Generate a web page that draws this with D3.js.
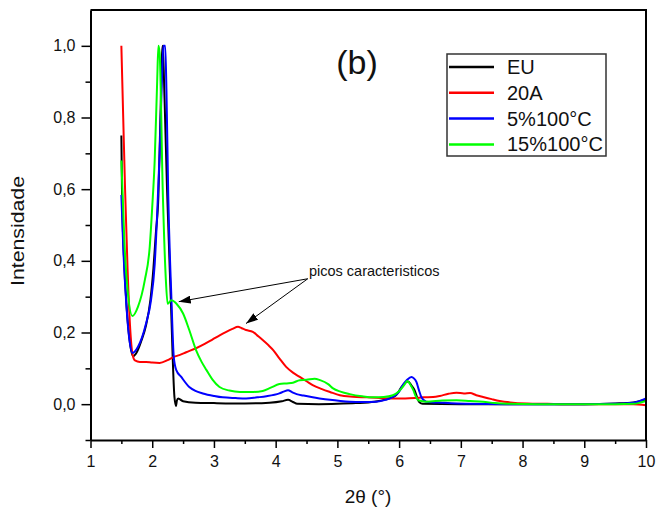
<!DOCTYPE html>
<html>
<head>
<meta charset="utf-8">
<script src="https://cdn.jsdelivr.net/npm/d3@7"></script>
<style>
  body { margin: 0; background: #fff; }
  text { font-family: Arial, "Liberation Sans", sans-serif; }
</style>
</head>
<body>
<div id="graph"></div>
<script>
const euData = [[1.5,0.75],[1.51,0.6],[1.54,0.42],[1.59,0.26],[1.64,0.17],[1.69,0.134],[1.75,0.145],[1.82,0.175],[1.9,0.22],[1.97,0.29],[2.02,0.38],[2.06,0.48],[2.1,0.58],[2.13,0.78],[2.16,0.98],[2.17,1.0],[2.2,0.85],[2.24,0.6],[2.3,0.3],[2.36,0.02],[2.385,-0.005],[2.4,0.01],[2.42,0.016],[2.5,0.008],[2.7,0.004],[3.0,0.003],[3.5,0.002],[3.9,0.004],[4.1,0.008],[4.2,0.012],[4.28,0.006],[4.35,0.001],[4.7,0],[5.0,0.001],[5.3,0.003],[5.6,0.007],[5.8,0.014],[5.95,0.025],[6.04,0.048],[6.1,0.06],[6.145,0.063],[6.2,0.052],[6.25,0.039],[6.3,0.015],[6.33,0.005],[6.38,0.001],[7,0],[8,0],[9,0],[9.5,0.002],[9.8,0.005],[10,0.013]]

const a20Data = [[1.5,1.0],[1.53,0.8],[1.56,0.6],[1.6,0.38],[1.64,0.22],[1.68,0.14],[1.72,0.122],[1.8,0.118],[1.9,0.118],[2.0,0.116],[2.12,0.115],[2.25,0.123],[2.35,0.132],[2.44,0.137],[2.55,0.145],[2.71,0.156],[2.85,0.168],[2.98,0.181],[3.1,0.193],[3.2,0.202],[3.3,0.21],[3.39,0.216],[3.45,0.212],[3.52,0.207],[3.63,0.202],[3.7,0.192],[3.79,0.179],[3.88,0.165],[3.96,0.151],[4.06,0.128],[4.17,0.104],[4.28,0.088],[4.39,0.076],[4.5,0.064],[4.6,0.053],[4.75,0.042],[4.88,0.034],[5.04,0.025],[5.25,0.021],[5.47,0.019],[5.7,0.017],[5.9,0.016],[6.1,0.016],[6.25,0.017],[6.39,0.019],[6.55,0.02],[6.66,0.023],[6.8,0.029],[6.93,0.032],[7.05,0.03],[7.15,0.031],[7.25,0.025],[7.36,0.02],[7.5,0.014],[7.63,0.009],[7.8,0.005],[8.07,0.002],[8.4,0.001],[8.71,0],[9.2,0],[9.79,0],[10,-0.003]]

const p5Data = [[1.5,0.584],[1.53,0.44],[1.58,0.28],[1.63,0.18],[1.68,0.143],[1.77,0.16],[1.9,0.225],[1.98,0.29],[2.04,0.39],[2.08,0.53],[2.12,0.7],[2.16,0.92],[2.18,1.0],[2.21,1.0],[2.23,0.88],[2.26,0.58],[2.31,0.3],[2.35,0.13],[2.39,0.095],[2.47,0.076],[2.6,0.048],[2.7,0.037],[2.82,0.03],[3.0,0.023],[3.14,0.019],[3.35,0.017],[3.52,0.016],[3.7,0.019],[3.85,0.022],[4.06,0.03],[4.13,0.035],[4.2,0.039],[4.27,0.033],[4.34,0.028],[4.45,0.024],[4.6,0.019],[4.71,0.016],[4.88,0.012],[5.05,0.009],[5.2,0.007],[5.4,0.006],[5.63,0.007],[5.78,0.012],[5.9,0.02],[6.0,0.035],[6.06,0.053],[6.13,0.068],[6.2,0.076],[6.24,0.072],[6.28,0.062],[6.32,0.04],[6.36,0.02],[6.44,0.007],[6.7,0.004],[7.09,0.001],[8,0],[9,0],[9.5,0.001],[9.79,0.004],[9.9,0.009],[10,0.016]]

const p15Data = [[1.5,0.68],[1.55,0.45],[1.6,0.32],[1.68,0.246],[1.77,0.272],[1.88,0.346],[1.96,0.44],[2.0,0.55],[2.04,0.68],[2.08,0.9],[2.1,1.0],[2.12,0.98],[2.17,0.6],[2.22,0.35],[2.25,0.28],[2.31,0.29],[2.36,0.286],[2.39,0.281],[2.5,0.253],[2.6,0.207],[2.71,0.151],[2.8,0.118],[2.88,0.095],[2.98,0.068],[3.09,0.048],[3.25,0.038],[3.42,0.034],[3.6,0.034],[3.79,0.037],[3.92,0.046],[4.06,0.056],[4.18,0.058],[4.28,0.06],[4.39,0.067],[4.5,0.068],[4.63,0.071],[4.72,0.067],[4.85,0.056],[4.93,0.044],[5.05,0.035],[5.2,0.028],[5.4,0.022],[5.58,0.019],[5.75,0.02],[5.9,0.025],[5.98,0.033],[6.04,0.044],[6.1,0.058],[6.13,0.065],[6.18,0.055],[6.23,0.039],[6.27,0.022],[6.31,0.011],[6.44,0.007],[6.7,0.01],[6.93,0.011],[7.15,0.009],[7.36,0.007],[7.55,0.003],[7.74,0.001],[8.5,0],[9.5,0],[9.8,0.001],[9.9,0.004],[10,0.009]]

const seriesNames = ["EU", "20A", "5%100°C", "15%100°C"]
const seriesColors = ["#000000", "#ff0000", "#0000ff", "#00ff00"]
const seriesData = [euData, a20Data, p5Data, p15Data]

const xTicks = [1, 2, 3, 4, 5, 6, 7, 8, 9, 10]
const yTicks = [0, 0.2, 0.4, 0.6, 0.8, 1.0]

const width = 658
const height = 510
const mLeft = 90.5, mRight = 646, mTop = 10, mBottom = 440

const svg = d3.select("#graph").append("svg")
    .attr("width", width)
    .attr("height", height)

const x = d3.scaleLinear().domain([1, 10]).range([mLeft, mRight])
const y = d3.scaleLinear().domain([-0.1, 1.1]).range([mBottom, mTop])

// Curves
const line = d3.line()
    .x(d => x(d[0]))
    .y(d => y(d[1]))
    .curve(d3.curveMonotoneX)

svg.append("g")
    .selectAll()
    .data(seriesData)
    .join("path")
    .attr("fill", "none")
    .attr("stroke", (d, i) => seriesColors[i])
    .attr("stroke-width", 2)
    .attr("stroke-linejoin", "round")
    .attr("d", line)

// Minor ticks
svg.append("g")
    .attr("transform", `translate(0,${mBottom})`)
    .call(d3.axisBottom(x).tickValues(d3.range(1.5, 10, 1)).tickSize(4).tickFormat(""))
    .call(g => g.select(".domain").remove())
    .call(g => g.selectAll("line").attr("stroke-width", 1.5))

svg.append("g")
    .attr("transform", `translate(${mLeft},0)`)
    .call(d3.axisLeft(y).tickValues([-0.1, 0.1, 0.3, 0.5, 0.7, 0.9]).tickSize(5).tickFormat(""))
    .call(g => g.select(".domain").remove())
    .call(g => g.selectAll("line").attr("stroke-width", 1.5))

// X axis
svg.append("g")
    .attr("transform", `translate(0,${mBottom})`)
    .call(d3.axisBottom(x).tickValues(xTicks).tickSize(8).tickPadding(8).tickSizeOuter(0))
    .call(g => g.select(".domain").attr("stroke-width", 2))
    .call(g => g.selectAll("line").attr("stroke-width", 1.5))
    .call(g => g.selectAll("text").attr("font-size", 16).attr("fill", "#111")
        .attr("font-family", "Arial, 'Liberation Sans', sans-serif"))

// Y axis
svg.append("g")
    .attr("transform", `translate(${mLeft},0)`)
    .call(d3.axisLeft(y).tickValues(yTicks).tickSize(9).tickPadding(6).tickSizeOuter(0)
        .tickFormat(d => d3.format(".1f")(d).replace(".", ",")))
    .call(g => g.select(".domain").attr("stroke-width", 2))
    .call(g => g.selectAll("line").attr("stroke-width", 1.5))
    .call(g => g.selectAll("text").attr("font-size", 16).attr("fill", "#111")
        .attr("font-family", "Arial, 'Liberation Sans', sans-serif"))

// Frame top / right
svg.append("path")
    .attr("fill", "none")
    .attr("stroke", "#000")
    .attr("stroke-width", 2)
    .attr("d", `M${mLeft},${mTop}H${mRight}V${mBottom}`)

// Axis titles
svg.append("text")
    .attr("x", 368)
    .attr("y", 503)
    .attr("text-anchor", "middle")
    .attr("font-size", 19)
    .attr("fill", "#111")
    .text("2θ (°)")

svg.append("text")
    .attr("transform", "translate(24,231) rotate(-90)")
    .attr("text-anchor", "middle")
    .attr("font-size", 18)
    .attr("fill", "#111")
    .attr("textLength", 110)
    .attr("lengthAdjust", "spacingAndGlyphs")
    .text("Intensidade")

// Panel label
svg.append("text")
    .attr("x", 357)
    .attr("y", 74)
    .attr("text-anchor", "middle")
    .attr("font-size", 34)
    .attr("fill", "#111")
    .text("(b)")

// Legend
const lg = svg.append("g")
lg.append("rect")
    .attr("x", 447).attr("y", 54)
    .attr("width", 159).attr("height", 102)
    .attr("fill", "#fff")
    .attr("stroke", "#333")
    .attr("stroke-width", 1.5)

const items = lg.selectAll("g.item")
    .data(seriesNames)
    .join("g")
    .attr("class", "item")
    .attr("transform", (d, i) => `translate(0,${67 + i * 25.8})`)

items.append("line")
    .attr("x1", 449).attr("x2", 494)
    .attr("stroke", (d, i) => seriesColors[i])
    .attr("stroke-width", 2.5)

items.append("text")
    .attr("x", 507)
    .attr("y", 7)
    .attr("font-size", 20)
    .attr("fill", "#111")
    .text(d => d)

// Annotation
svg.append("defs").append("marker")
    .attr("id", "arrow")
    .attr("viewBox", "0 0 12 8")
    .attr("refX", 12).attr("refY", 4)
    .attr("markerWidth", 12).attr("markerHeight", 8)
    .attr("markerUnits", "userSpaceOnUse")
    .attr("orient", "auto")
    .append("path")
    .attr("d", "M0,0L12,4L0,8Z")
    .attr("fill", "#000")

const noteFrom = [4.52, 0.35]
const noteTips = [[2.43, 0.286], [3.52, 0.225]]

svg.append("g")
    .selectAll()
    .data(noteTips)
    .join("line")
    .attr("x1", x(noteFrom[0])).attr("y1", y(noteFrom[1]))
    .attr("x2", d => x(d[0])).attr("y2", d => y(d[1]))
    .attr("stroke", "#000")
    .attr("stroke-width", 1)
    .attr("marker-end", "url(#arrow)")

svg.append("text")
    .attr("x", x(4.54))
    .attr("y", y(0.358))
    .attr("font-size", 14.5)
    .attr("fill", "#111")
    .text("picos caracteristicos")
</script>
</body>
</html>
